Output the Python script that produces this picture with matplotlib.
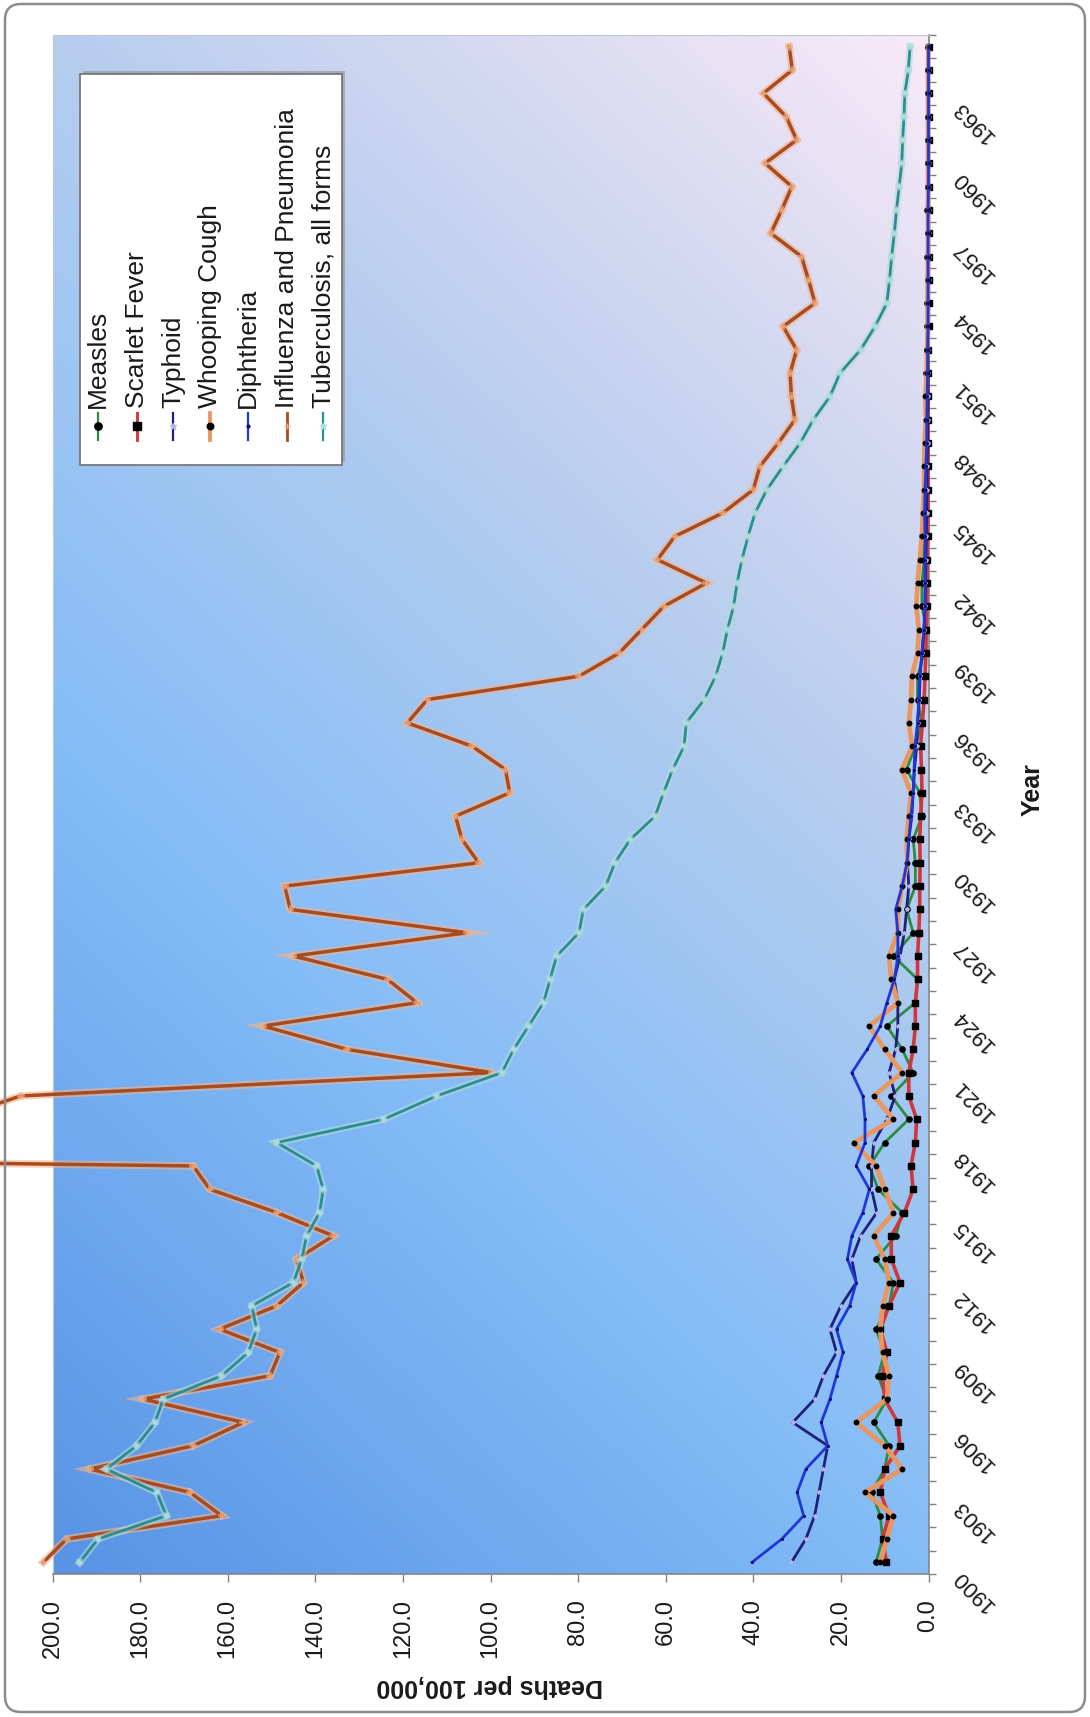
import numpy as np
import matplotlib
matplotlib.use("Agg")
import matplotlib.pyplot as plt
import matplotlib.patheffects as pe
from matplotlib.colors import LinearSegmentedColormap
from matplotlib.patches import FancyBboxPatch, Rectangle

plt.rcParams['font.family'] = ['Liberation Sans', 'DejaVu Sans']

###### Data: deaths per 100,000, 1900-1965 #####
years = list(range(1900, 1966))

measles = [12.0, 10.5, 11.0, 13.0, 10.0, 9.0, 12.5, 9.5, 11.5, 10.0,
           12.0, 9.0, 8.0, 12.0, 7.5, 6.0, 11.5, 13.5, 10.0, 4.5,
           8.5, 3.5, 6.0, 9.5, 3.0, 2.5, 8.0, 3.5, 5.0, 3.0,
           3.0, 3.5, 1.5, 2.0, 5.0, 3.0, 1.5, 2.5, 2.5, 1.0,
           0.5, 1.5, 1.5, 1.0, 1.5, 0.3, 0.8, 0.3, 0.6, 0.3,
           0.3, 0.5, 0.4, 0.3, 0.3, 0.2, 0.3, 0.2, 0.3, 0.2,
           0.2, 0.2, 0.2, 0.2, 0.2, 0.1]
scarlet = [9.6, 10.5, 9.0, 11.0, 10.0, 6.5, 7.0, 10.0, 10.5, 9.5,
           11.0, 9.0, 6.5, 8.5, 8.5, 5.5, 3.5, 4.0, 3.0, 2.7,
           4.5, 4.5, 3.5, 3.0, 3.0, 2.5, 2.5, 2.2, 2.0, 2.0,
           1.9, 2.0, 1.8, 1.5, 1.6, 1.8, 1.4, 1.0, 0.8, 0.6,
           0.5, 0.4, 0.3, 0.3, 0.2, 0.1, 0.1, 0.1, 0.1, 0.1,
           0.1, 0.1, 0.1, 0.0, 0.0, 0.0, 0.0, 0.0, 0.0, 0.0,
           0.0, 0.0, 0.0, 0.0, 0.0, 0.0]
typhoid = [31.3, 28.0, 26.0, 25.0, 24.0, 23.0, 31.0, 26.0, 24.0, 21.0,
           22.5, 20.0, 16.5, 17.5, 15.5, 11.8, 13.0, 13.0, 12.5, 9.5,
           7.6, 9.0, 7.5, 7.0, 7.0, 7.8, 6.5, 5.5, 5.0, 4.5,
           4.8, 4.5, 3.8, 3.5, 3.2, 2.7, 2.5, 2.1, 1.9, 1.5,
           1.0, 0.8, 0.7, 0.6, 0.5, 0.4, 0.3, 0.3, 0.2, 0.2,
           0.1, 0.1, 0.1, 0.1, 0.1, 0.0, 0.0, 0.0, 0.0, 0.0,
           0.0, 0.0, 0.0, 0.0, 0.0, 0.0]
whooping = [11.0, 9.5, 8.0, 14.5, 6.0, 10.0, 16.5, 9.5, 9.0, 10.5,
            11.0, 10.5, 9.0, 10.0, 12.5, 8.0, 10.0, 12.0, 17.0, 8.0,
            12.5, 6.0, 10.0, 13.5, 7.0, 8.5, 9.0, 7.0, 7.0, 6.0,
            4.8, 5.0, 4.5, 4.0, 6.1, 3.7, 4.5, 4.0, 3.8, 2.5,
            2.2, 2.8, 2.5, 2.0, 1.5, 1.3, 1.0, 1.0, 0.9, 0.6,
            0.7, 0.4, 0.3, 0.2, 0.2, 0.2, 0.1, 0.1, 0.1, 0.1,
            0.1, 0.1, 0.1, 0.1, 0.1, 0.0]
diphtheria = [40.3, 33.5, 28.5, 30.0, 28.0, 23.0, 24.5, 22.5, 21.0, 19.5,
              21.0, 18.0, 16.5, 18.5, 17.5, 15.0, 13.5, 16.5, 14.5, 14.5,
              15.0, 17.5, 14.0, 11.0, 9.5, 7.8, 7.0, 7.0, 7.5, 6.0,
              4.9, 4.5, 4.0, 3.5, 3.3, 3.1, 2.5, 2.2, 2.0, 1.5,
              1.1, 0.8, 0.8, 0.8, 0.8, 0.9, 0.8, 0.6, 0.4, 0.4,
              0.3, 0.2, 0.2, 0.1, 0.1, 0.1, 0.1, 0.1, 0.1, 0.0,
              0.0, 0.0, 0.0, 0.0, 0.0, 0.0]
influenza = [202.1, 196.8, 161.4, 168.6, 191.5, 167.9, 156.4, 179.3, 150.3, 148.1,
             161.8, 148.8, 142.7, 144.3, 135.9, 148.8, 164.1, 167.9, 588.5, 223.0,
             207.3, 99.7, 132.8, 151.9, 116.8, 123.5, 145.0, 105.4, 145.7, 147.0,
             102.7, 106.5, 108.0, 95.6, 96.6, 104.2, 119.0, 114.4, 79.8, 70.6,
             65.5, 60.4, 50.7, 61.9, 57.9, 47.0, 40.0, 38.5, 34.3, 30.5,
             31.3, 31.6, 30.1, 33.2, 25.9, 27.4, 29.0, 36.0, 33.5, 31.2,
             37.3, 30.1, 32.5, 37.7, 31.1, 31.8]
tuberculosis = [193.8, 189.6, 174.0, 176.2, 187.7, 180.8, 176.6, 174.7, 161.4, 155.3,
                153.4, 154.5, 145.0, 143.1, 142.0, 139.0, 138.2, 139.7, 148.8, 124.4,
                112.3, 97.4, 94.7, 91.3, 87.9, 86.4, 84.9, 79.8, 78.8, 73.7,
                71.6, 68.1, 62.4, 60.5, 58.4, 55.8, 55.3, 51.2, 48.6, 47.0,
                45.9, 44.5, 43.7, 42.6, 41.2, 39.6, 36.9, 33.2, 29.3, 26.3,
                22.5, 20.2, 15.5, 12.2, 9.5, 8.9, 8.4, 7.8, 7.3, 6.7,
                6.1, 5.9, 5.6, 5.4, 4.6, 4.2]

series_names = ['Measles', 'Scarlet Fever', 'Typhoid', 'Whooping Cough',
                'Diphtheria', 'Influenza and Pneumonia', 'Tuberculosis, all forms']
death_ticks = [0, 20, 40, 60, 80, 100, 120, 140, 160, 180, 200]
year_labels = list(range(1900, 1964, 3))

## styles (colour, linewidth, marker, marker size, marker colour)
styles = [
    ('#2e8b3e', 2.0, 'o', 3.8, 'black'),
    ('#d2363a', 2.6, 's', 4.6, 'black'),
    ('#20207a', 2.0, '*', 3.0, '#b4b4ea'),
    ('#e9975f', 3.4, 'o', 3.2, 'black'),
    ('#1f36d8', 2.0, '.', 2.5, '#101060'),
    ('#a84b1e', 2.5, '+', 2.5, '#f2a46a'),
    ('#2b8d8f', 2.0, '*', 3.0, '#a8dede'),
]
glows = [None, None, None, None, None, '#f0b490', '#b3dada']

W, H = 1090, 1717
fig = plt.figure(figsize=(W / 100, H / 100), dpi=100)
fig.patch.set_facecolor('white')

# plot area in pixel coords
px_left, px_right, px_top, px_bottom = 52.5, 928.5, 35, 1574
ax = fig.add_axes([px_left / W, 1 - px_bottom / H,
                   (px_right - px_left) / W, (px_bottom - px_top) / H], zorder=2)

# gradient background
cmap = LinearSegmentedColormap.from_list('bg', [
    (0.0, '#5893e4'), (0.35, '#84bcf7'), (0.5, '#9cc5f3'),
    (0.65, '#b6cdee'), (0.85, '#dcdcf2'), (1.0, '#f8eaf7')])
u = np.linspace(0, 1, 160)[None, :]
v = np.linspace(0, 1, 300)[:, None]
t = np.clip(0.35 * u + 0.65 * v, 0, 1)
ax.imshow(cmap(t)[..., :3], extent=[200, 0, 1899.5, 1965.5], origin='lower',
          aspect='auto', zorder=0, interpolation='bilinear')

all_series = [measles, scarlet, typhoid, whooping, diphtheria, influenza, tuberculosis]
for vals, st, gl in zip(all_series, styles, glows):
    col, lw, mk, ms, mc = st
    line, = ax.plot(vals, years, color=col, lw=lw, marker=mk, ms=ms,
                    mfc=mc, mec=mc, clip_on=False, zorder=3, solid_joinstyle='miter')
    if gl is not None:
        line.set_path_effects([pe.Stroke(linewidth=lw + 3.0, foreground=gl, alpha=0.6),
                               pe.Normal()])

ax.set_xlim(200, 0)
ax.set_ylim(1899.5, 1965.5)

# deaths axis (bottom)
ax.set_xticks(death_ticks)
ax.set_xticklabels(['%.1f' % d for d in death_ticks], rotation=90)
ax.tick_params(axis='x', direction='out', length=6, width=1, color='#808080',
               pad=12, labelsize=17, labelcolor='#1a1a1a')

# year axis (right)
ax.yaxis.tick_right()
ax.set_yticks([y - 0.45 for y in year_labels])
ax.set_yticklabels([str(y) for y in year_labels], rotation=135,
                   rotation_mode='anchor', ha='right', va='center')
ax.set_yticks(np.arange(1899.5, 1966, 1), minor=True)
ax.tick_params(axis='y', which='major', length=0, pad=20, labelsize=16,
               labelcolor='#1a1a1a')
ax.tick_params(axis='y', which='minor', direction='out', length=5, width=1,
               color='#808080')

for side in ['left', 'top']:
    ax.spines[side].set_color('#c0c8d8')
    ax.spines[side].set_linewidth(0.8)
for side in ['right', 'bottom']:
    ax.spines[side].set_color('#868686')
    ax.spines[side].set_linewidth(1.2)

###### Overlay: border, axis titles, legend (pixel coords) #####
ov = fig.add_axes([0, 0, 1, 1], zorder=5)
ov.set_xlim(0, W)
ov.set_ylim(H, 0)
ov.axis('off')

ov.add_patch(FancyBboxPatch((5, 4), W - 10, H - 9,
                            boxstyle='round,pad=0,rounding_size=16',
                            fc='none', ec='#8c8c8c', lw=1.8, zorder=1))

ov.text(490, 1686, 'Deaths per 100,000', rotation=180, ha='center', va='center',
        fontsize=18, fontweight='bold', color='#1a1a1a')
ov.text(1033, 790, 'Year', rotation=90, ha='center', va='center',
        fontsize=18, fontweight='bold', color='#1a1a1a')

# legend box with shadow
ov.add_patch(Rectangle((83, 71), 262, 391, fc='#8a8a8a', ec='none', alpha=0.55, zorder=2))
ov.add_patch(Rectangle((80, 74), 262, 391, fc='white', ec='#6f6f6f', lw=1.2, zorder=3))
leg_x = [98, 137, 173, 210, 248, 287, 323]
for x, name, st in zip(leg_x, series_names, styles):
    col, lw, mk, ms, mc = st
    ov.plot([x, x], [413, 440], color=col, lw=lw * 0.8, zorder=4)
    ov.plot([x], [426], marker=mk, ms=ms + 1.5, mfc=mc, mec=mc, zorder=5)
    ov.text(x, 408, name, rotation=90, ha='center', va='bottom', fontsize=19,
            color='#1a1a1a', zorder=5)

plt.savefig('out.png', dpi=100)
